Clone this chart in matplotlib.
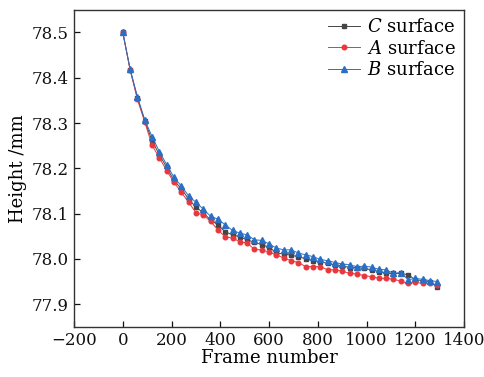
import numpy as np
import matplotlib
matplotlib.use('Agg')
import matplotlib.pyplot as plt

plt.rcParams['font.family'] = ['DejaVu Serif']
plt.rcParams['mathtext.fontset'] = 'dejavuserif'

# 帧号，每30帧一个点
frames = list(range(0, 1291, 30))

c_surface = [78.500, 78.418, 78.355, 78.305, 78.261, 78.230, 78.202, 78.173, 78.155, 78.132,
             78.114, 78.102, 78.086, 78.075, 78.060, 78.053, 78.049, 78.042, 78.037, 78.031,
             78.026, 78.013, 78.011, 78.008, 78.005, 78.000, 77.996, 77.994, 77.990, 77.987,
             77.985, 77.981, 77.981, 77.979, 77.976, 77.972, 77.968, 77.968, 77.968, 77.965,
             77.954, 77.952, 77.950, 77.937]
a_surface = [78.500, 78.417, 78.352, 78.302, 78.251, 78.223, 78.195, 78.169, 78.147, 78.125,
             78.102, 78.097, 78.083, 78.064, 78.049, 78.046, 78.038, 78.035, 78.021, 78.020,
             78.015, 78.009, 78.002, 77.996, 77.992, 77.983, 77.983, 77.983, 77.976, 77.976,
             77.973, 77.968, 77.967, 77.963, 77.961, 77.957, 77.957, 77.955, 77.951, 77.946,
             77.948, 77.946, 77.946, 77.942]
b_surface = [78.500, 78.419, 78.358, 78.307, 78.270, 78.237, 78.208, 78.180, 78.161, 78.139,
             78.125, 78.110, 78.094, 78.088, 78.075, 78.063, 78.057, 78.053, 78.042, 78.041,
             78.033, 78.024, 78.020, 78.020, 78.013, 78.009, 78.005, 77.999, 77.996, 77.992,
             77.989, 77.987, 77.983, 77.984, 77.982, 77.977, 77.976, 77.968, 77.970, 77.954,
             77.957, 77.955, 77.952, 77.950]

fig = plt.figure(figsize=(4.84, 3.77), dpi=100)
ax = fig.add_axes([0.153, 0.133, 0.806, 0.841])

ax.plot(frames, c_surface, color='#454545', lw=0.7, marker='s', ms=3.3, label='$C$ surface')
ax.plot(frames, a_surface, color='#e8383d', lw=0.7, marker='o', ms=3.3, label='$A$ surface')
ax.plot(frames, b_surface, color='#2a6fc4', lw=0.7, marker='^', ms=3.8, label='$B$ surface')

ax.set_xlim(-200, 1400)
ax.set_ylim(77.85, 78.55)
ax.set_xticks(np.arange(-200, 1401, 200))
ax.set_yticks(np.arange(77.9, 78.51, 0.1))
ax.set_yticklabels(['77.9', '78.0', '78.1', '78.2', '78.3', '78.4', '78.5'])
ax.set_xticklabels(['\u2212200', '0', '200', '400', '600', '800', '1000', '1200', '1400'])
ax.tick_params(direction='in', length=4, width=0.9, labelsize=12, colors='#111111', pad=4)
for s in ax.spines.values():
    s.set_linewidth(1.0)
    s.set_color('#333333')

ax.set_xlabel('Frame number', fontsize=13, labelpad=0)
ax.set_ylabel('Height /mm', fontsize=13, labelpad=3)

ax.legend(loc='upper right', frameon=False, fontsize=13, handlelength=1.8,
          labelspacing=0.2, borderaxespad=0.05, handletextpad=0.4)

plt.savefig('out.png', dpi=100)
plt.close()
